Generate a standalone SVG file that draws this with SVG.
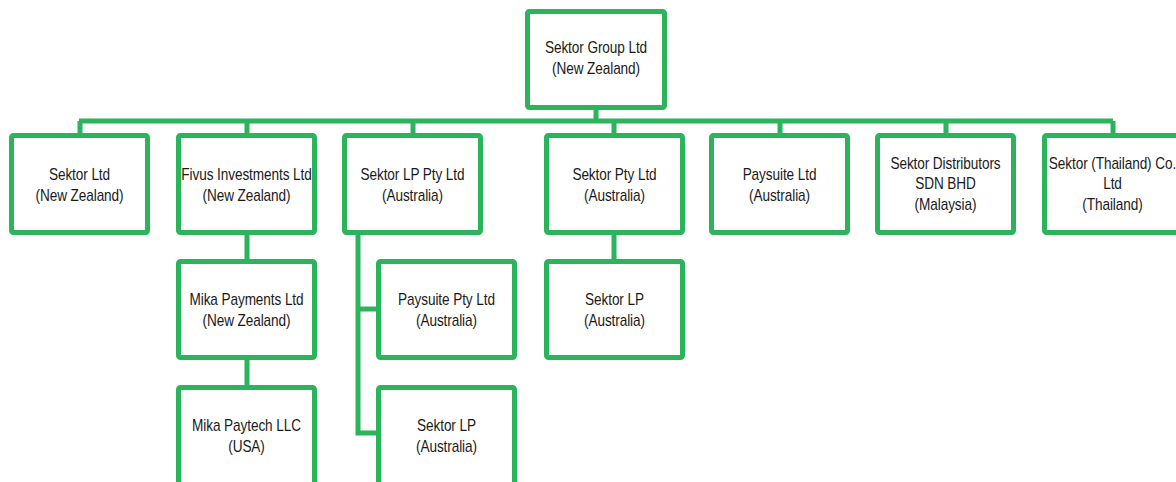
<svg xmlns="http://www.w3.org/2000/svg" width="1176" height="482" viewBox="0 0 1176 482">
<style>
.b{fill:#fff;stroke:#2bb45c;stroke-width:5}
.c{fill:none;stroke:#2bb45c;stroke-width:5}
text{font-family:"Liberation Sans",Arial,sans-serif;font-size:16px;fill:#1a1a1a;text-anchor:middle;letter-spacing:-0.1px}
</style>
<rect width="1176" height="482" fill="#fff"/>
<g id="connectors">
<path class="c" d="M596 108V121M79 121H1113M80 121V134M247 121V134M413 121V134M614 121V134M780 121V134M946 121V134M1113 121V134"/>
<path class="c" d="M247 234V260M247 359V386M614 234V260"/>
<path class="c" d="M358 234V433H377M358 309H377"/>
</g>
<g id="n-group"><rect class="b" x="527.5" y="11.5" width="137" height="96" rx="2"/><g transform="scale(0.85 1)"><text x="701.18" y="53">Sektor Group Ltd</text><text x="701.18" y="74">(New Zealand)</text></g></g>
<g id="n-sektorltd"><rect class="b" x="11.5" y="135.5" width="136" height="97" rx="2"/><g transform="scale(0.85 1)"><text x="93.53" y="180">Sektor Ltd</text><text x="93.53" y="201">(New Zealand)</text></g></g>
<g id="n-fivus"><rect class="b" x="178.5" y="135.5" width="136" height="97" rx="2"/><g transform="scale(0.85 1)"><text x="290" y="180">Fivus Investments Ltd</text><text x="290" y="201">(New Zealand)</text></g></g>
<g id="n-lppty"><rect class="b" x="344.5" y="135.5" width="136" height="97" rx="2"/><g transform="scale(0.85 1)"><text x="485.29" y="180">Sektor LP Pty Ltd</text><text x="485.29" y="201">(Australia)</text></g></g>
<g id="n-pty"><rect class="b" x="546.5" y="135.5" width="136" height="97" rx="2"/><g transform="scale(0.85 1)"><text x="722.94" y="180">Sektor Pty Ltd</text><text x="722.94" y="201">(Australia)</text></g></g>
<g id="n-paysuite"><rect class="b" x="711.5" y="135.5" width="136" height="97" rx="2"/><g transform="scale(0.85 1)"><text x="917.06" y="180">Paysuite Ltd</text><text x="917.06" y="201">(Australia)</text></g></g>
<g id="n-distributors"><rect class="b" x="877.5" y="135.5" width="136" height="97" rx="2"/><g transform="scale(0.85 1)"><text x="1112.35" y="169">Sektor Distributors</text><text x="1112.35" y="189">SDN BHD</text><text x="1112.35" y="210">(Malaysia)</text></g></g>
<g id="n-thailand"><rect class="b" x="1044.5" y="135.5" width="136" height="97" rx="2"/><g transform="scale(0.85 1)"><text x="1308.82" y="169">Sektor (Thailand) Co.</text><text x="1308.82" y="189">Ltd</text><text x="1308.82" y="210">(Thailand)</text></g></g>
<g id="n-mikapay"><rect class="b" x="178.5" y="261.5" width="136" height="96" rx="2"/><g transform="scale(0.85 1)"><text x="290" y="305">Mika Payments Ltd</text><text x="290" y="326">(New Zealand)</text></g></g>
<g id="n-paysuitepty"><rect class="b" x="378.5" y="261.5" width="136" height="96" rx="2"/><g transform="scale(0.85 1)"><text x="525.29" y="305">Paysuite Pty Ltd</text><text x="525.29" y="326">(Australia)</text></g></g>
<g id="n-sektorlp1"><rect class="b" x="546.5" y="261.5" width="136" height="96" rx="2"/><g transform="scale(0.85 1)"><text x="722.94" y="305">Sektor LP</text><text x="722.94" y="326">(Australia)</text></g></g>
<g id="n-mikapaytech"><rect class="b" x="178.5" y="387.5" width="136" height="100" rx="2"/><g transform="scale(0.85 1)"><text x="290" y="431">Mika Paytech LLC</text><text x="290" y="452">(USA)</text></g></g>
<g id="n-sektorlp2"><rect class="b" x="378.5" y="387.5" width="136" height="100" rx="2"/><g transform="scale(0.85 1)"><text x="525.29" y="431">Sektor LP</text><text x="525.29" y="452">(Australia)</text></g></g>
</svg>
